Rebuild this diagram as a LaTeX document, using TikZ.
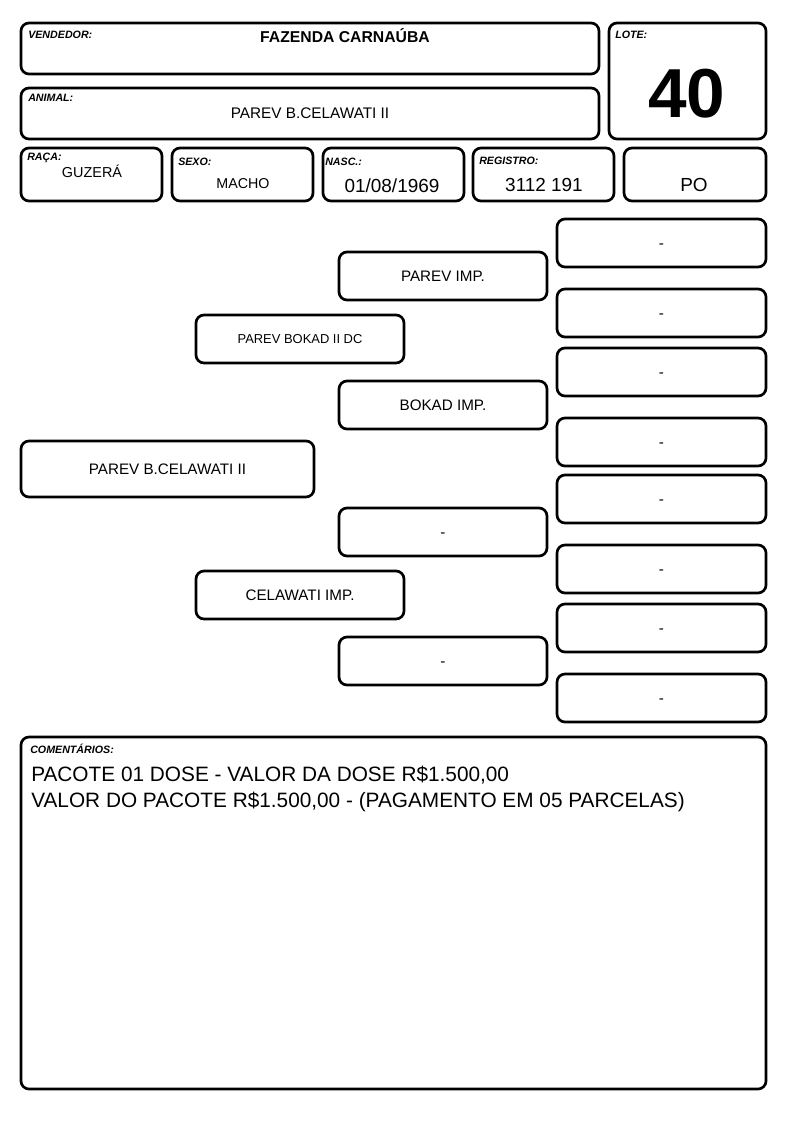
\documentclass[tikz,border=0pt]{standalone}
\usepackage{fontspec}
\setmainfont{Liberation Sans}
\usetikzlibrary{positioning}

\tikzset{
	box/.style={draw, line width=2pt, rounded corners=6pt, inner sep=0pt, align=center, text height=8.1pt, text depth=0pt, font=\fontsize{11.4}{13}\selectfont},
	cellsize/.style 2 args={minimum width=#1*0.75pt, minimum height=#2*0.75pt},
	lbl/.style={anchor=base west, inner sep=0pt, font=\fontsize{8}{9}\selectfont\bfseries\itshape},
	val/.style={anchor=base, inner sep=0pt, font=\fontsize{11.5}{13}\selectfont},
	bigval/.style={anchor=base, inner sep=0pt, font=\fontsize{14.2}{16}\selectfont},
}

\begin{document}
\begin{tikzpicture}[x=0.75pt, y=-0.75pt]
	\useasboundingbox (0,0) rectangle (794,1123);

	% cabecalho
	\node[box, cellsize={578}{51}] (vend) at (310,48.5) {};
	\node[box, cellsize={578}{51}] (anim) at (310,113.5) {};
	\node[box, cellsize={157}{116}] (lote) at (687.5,81) {};
	\node[lbl] (vendlbl) at (28,39) {VENDEDOR:};
	\node[lbl] (animlbl) at (28,102) {ANIMAL:};
	\node[lbl] (lotelbl) at (615,39) {LOTE:};
	\node[val, font=\fontsize{11.8}{13}\selectfont\bfseries] (vendval) at (345,43) {FAZENDA CARNAÚBA};
	\node[val] (animval) at (310,119) {PAREV B.CELAWATI II};
	\node[val, font=\fontsize{52}{56}\selectfont\bfseries] (loteval) at (687,118) {40};

	\node[box, cellsize={141}{53}] (raca) at (91.5,174.5) {};
	\node[box, cellsize={141}{53}] (sexo) at (242.5,174.5) {};
	\node[box, cellsize={141}{53}] (nasc) at (393.5,174.5) {};
	\node[box, cellsize={141}{53}] (reg) at (543.5,174.5) {};
	\node[box, cellsize={142}{53}] (cat) at (695,174.5) {};
	\node[lbl] (racalbl) at (27,161) {RAÇA:};
	\node[lbl] (sexolbl) at (178,166) {SEXO:};
	\node[lbl] (nasclbl) at (325,166) {NASC.:};
	\node[lbl] (reglbl) at (479,165) {REGISTRO:};
	\node[val, font=\fontsize{10.8}{12}\selectfont] (racaval) at (92,178) {GUZERÁ};
	\node[val, font=\fontsize{10.7}{12}\selectfont] (sexoval) at (243,189) {MACHO};
	\node[bigval] (nascval) at (392,193) {01/08/1969};
	\node[bigval] (regval) at (544,192) {3112 191};
	\node[bigval] (catval) at (694,192) {PO};

	% genealogia
	\node[box, cellsize={293}{56}] (animal) at (167.5,469) {PAREV B.CELAWATI II};
	\node[box, cellsize={208}{48}, font=\fontsize{9.7}{11}\selectfont, text height=7pt] (pai) at (300,339) {PAREV BOKAD II DC};
	\node[box, cellsize={208}{48}] (mae) at (300,595) {CELAWATI IMP.};
	\node[box, cellsize={208}{48}] (avo1) at (443,276) {PAREV IMP.};
	\node[box, cellsize={208}{48}] (avo2) at (443,405) {BOKAD IMP.};
	\node[box, cellsize={208}{48}] (avo3) at (443,532) {-};
	\node[box, cellsize={208}{48}] (avo4) at (443,661) {-};
	\foreach \yy [count=\i] in {243,313,372,442,499,569,628,698}
		\node[box, cellsize={209}{48}] (bis\i) at (661.5,\yy) {-};

	% comentarios
	\node[box, cellsize={745}{352}] (coment) at (393.5,913) {};
	\node[lbl] (comentlbl) at (30,753) {COMENTÁRIOS:};
	\node[anchor=base west, inner sep=0pt, font=\fontsize{15.6}{19.5}\selectfont, align=left] (comenttxt) at (31,807)
		{PACOTE 01 DOSE - VALOR DA DOSE R\$1.500,00\\VALOR DO PACOTE R\$1.500,00 - (PAGAMENTO EM 05 PARCELAS)};
\end{tikzpicture}
\end{document}
